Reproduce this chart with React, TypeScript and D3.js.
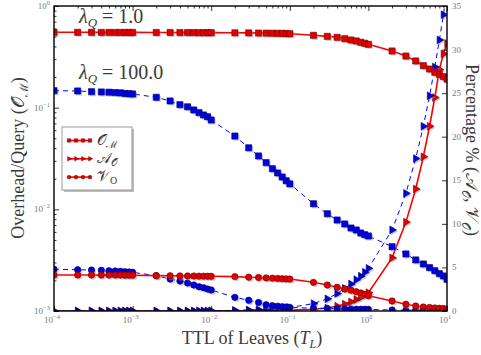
import { useEffect, useRef } from "react";
import * as d3 from "d3";

// TTL of leaves (x values, shared by every series)
const ttl = [
  1e-4, 2e-4, 3e-4, 4e-4, 5e-4, 6e-4, 7e-4, 8e-4, 9e-4,
  1e-3, 2e-3, 3e-3, 4e-3, 5e-3, 6e-3, 7e-3, 8e-3, 9e-3,
  1e-2, 2e-2, 3e-2, 4e-2, 5e-2, 6e-2, 7e-2, 8e-2, 9e-2,
  1e-1, 2e-1, 3e-1, 4e-1, 5e-1, 6e-1, 7e-1, 8e-1, 9e-1,
  1, 2, 3, 4, 5, 6, 7, 8, 9, 10,
];

// Overhead/Query, lambda_Q = 1.0 (left axis)
const omLow = [
  0.551, 0.551, 0.551, 0.55, 0.55, 0.55, 0.55, 0.55, 0.55,
  0.55, 0.549, 0.549, 0.548, 0.548, 0.548, 0.547, 0.547, 0.547,
  0.547, 0.545, 0.544, 0.542, 0.541, 0.54, 0.539, 0.538, 0.537,
  0.534, 0.515, 0.503, 0.492, 0.477, 0.463, 0.453, 0.44, 0.43,
  0.42, 0.361, 0.322, 0.288, 0.259, 0.24, 0.223, 0.212, 0.202, 0.191,
];

// Overhead/Query, lambda_Q = 100.0 (left axis)
const omHigh = [
  0.147, 0.146, 0.1436, 0.1427, 0.142, 0.1408, 0.1399, 0.138, 0.1372,
  0.1364, 0.1265, 0.1164, 0.107, 0.102, 0.0949, 0.0893, 0.0847, 0.0814,
  0.0756, 0.0526, 0.0403, 0.0335, 0.0288, 0.0251, 0.0228, 0.0208, 0.0191,
  0.0178, 0.01135, 0.00905, 0.00785, 0.00718, 0.00655, 0.00626, 0.00585, 0.00563,
  0.00547, 0.00429, 0.00364, 0.00318, 0.0029, 0.00267, 0.00249, 0.00233, 0.00221, 0.00205,
];

// A_O percentage, lambda_Q = 1.0 (right axis)
const aoLow = [
  0, 0, 0, 0, 0, 0, 0, 0, 0,
  0, 0, 0, 0, 0, 0, 0, 0, 0,
  0, 0.01, 0.02, 0.03, 0.04, 0.05, 0.06, 0.07, 0.08,
  0.1, 0.2, 0.35, 0.55, 0.8, 1.05, 1.32, 1.58, 1.85,
  2.1, 6.1, 10.2, 14.0, 17.7, 21.2, 24.5, 27.7, 29.5, 30.7,
];

// A_O percentage, lambda_Q = 100.0 (right axis)
const aoHigh = [
  0, 0, 0, 0, 0, 0, 0, 0, 0,
  0, 0, 0, 0, 0, 0, 0, 0, 0,
  0.02, 0.08, 0.12, 0.16, 0.2, 0.24, 0.28, 0.32, 0.36,
  0.4, 0.85, 1.4, 2.0, 2.6, 3.1, 3.6, 4.0, 4.45,
  4.9, 9.3, 13.5, 17.5, 21.2, 24.7, 28.0, 31.1, 34.0, 36.8,
];

// V_O percentage, lambda_Q = 1.0 (right axis)
const voLow = [
  4.13, 4.13, 4.13, 4.12, 4.12, 4.12, 4.12, 4.11, 4.11,
  4.11, 4.06, 4.04, 4.03, 4.02, 4.01, 4.0, 4.0, 3.99,
  3.98, 3.95, 3.88, 3.84, 3.8, 3.77, 3.74, 3.71, 3.69,
  3.67, 3.29, 2.98, 2.72, 2.53, 2.38, 2.22, 2.07, 1.92,
  1.76, 1.15, 0.77, 0.57, 0.46, 0.4, 0.35, 0.31, 0.28, 0.25,
];

// V_O percentage, lambda_Q = 100.0 (right axis)
const voHigh = [
  4.79, 4.74, 4.7, 4.67, 4.62, 4.59, 4.56, 4.51, 4.48,
  4.44, 4.05, 3.67, 3.44, 3.21, 2.98, 2.79, 2.67, 2.52,
  2.41, 1.57, 1.23, 0.98, 0.72, 0.62, 0.55, 0.5, 0.46,
  0.42, 0.31, 0.29, 0.26, 0.23, 0.22, 0.21, 0.2, 0.2,
  0.19, 0.11, 0.1, 0.1, 0.09, 0.09, 0.09, 0.08, 0.08, 0.08,
];

const leftTicks = [1e-3, 1e-2, 1e-1, 1];
const leftTickExp = ["\u22123", "\u22122", "\u22121", "0"];
const bottomTicks = [1e-4, 1e-3, 1e-2, 1e-1, 1, 10];
const bottomTickExp = ["\u22124", "\u22123", "\u22122", "\u22121", "0", "1"];
const rightTicks = [0, 5, 10, 15, 20, 25, 30, 35];
const legendLabels = [
  ["\u{1D4AA}", "\u2133"],
  ["\u{1D49C}", "\u{1D4AA}"],
  ["\u{1D4B1}", "O"],
];

const RED = "#ff0000";
const RED_FILL = "#e00000";
const RED_EDGE = "#700000";
const BLUE = "#0000ff";
const BLUE_FILL = "#0000e0";
const BLUE_EDGE = "#000070";
const SERIF = "Liberation Serif";

export default function App() {
  const svgRef = useRef<SVGSVGElement>(null);

  useEffect(() => {
    if (!svgRef.current) return;
    const svg = d3.select(svgRef.current);
    svg.selectAll("*").remove();

    const left = 54;
    const right = 447;
    const top = 6;
    const bottom = 311;

    const x = d3.scaleLog().domain([1e-4, 10]).range([left, right]);
    const yL = d3.scaleLog().domain([1e-3, 1]).range([bottom, top]);
    const yR = d3.scaleLinear().domain([0, 35]).range([bottom, top]);

    svg
      .append("defs")
      .append("clipPath")
      .attr("id", "plotClip")
      .append("rect")
      .attr("x", left)
      .attr("y", top)
      .attr("width", right - left)
      .attr("height", bottom - top);

    const plot = svg.append("g").attr("clip-path", "url(#plotClip)");

    const square = d3.symbol().type(d3.symbolSquare).size(38)();
    const circle = d3.symbol().type(d3.symbolCircle).size(32)();
    const tri = d3.symbol().type(d3.symbolTriangle).size(26)();

    const series = [
      { v: aoLow, s: yR, line: RED, fill: RED_FILL, edge: RED_EDGE, dash: null, mark: tri, rot: 90 },
      { v: aoHigh, s: yR, line: BLUE, fill: BLUE_FILL, edge: BLUE_EDGE, dash: "5,4", mark: tri, rot: 90 },
      { v: voHigh, s: yR, line: BLUE, fill: BLUE_FILL, edge: BLUE_EDGE, dash: "5,4", mark: circle, rot: 0 },
      { v: voLow, s: yR, line: RED, fill: RED_FILL, edge: RED_EDGE, dash: null, mark: circle, rot: 0 },
      { v: omHigh, s: yL, line: BLUE, fill: BLUE_FILL, edge: BLUE_EDGE, dash: "5,4", mark: square, rot: 0 },
      { v: omLow, s: yL, line: RED, fill: RED_FILL, edge: RED_EDGE, dash: null, mark: square, rot: 0 },
    ];

    series.forEach((sr) => {
      const line = d3
        .line<number>()
        .x((_, i) => x(ttl[i]))
        .y((d) => (sr.s as any)(d));
      plot
        .append("path")
        .datum(sr.v)
        .attr("fill", "none")
        .attr("stroke", sr.line)
        .attr("stroke-width", sr.dash ? 1 : 1.6)
        .attr("stroke-dasharray", sr.dash)
        .attr("d", line);

      // marker shadows
      plot
        .append("g")
        .selectAll("path")
        .data(sr.v)
        .join("path")
        .attr("d", sr.mark)
        .attr(
          "transform",
          (d, i) => `translate(${x(ttl[i]) + 1.5},${(sr.s as any)(d) + 1.5}) rotate(${sr.rot})`
        )
        .attr("fill", "#999")
        .attr("opacity", 0.5);

      plot
        .append("g")
        .selectAll("path")
        .data(sr.v)
        .join("path")
        .attr("d", sr.mark)
        .attr("transform", (d, i) => `translate(${x(ttl[i])},${(sr.s as any)(d)}) rotate(${sr.rot})`)
        .attr("fill", sr.fill)
        .attr("stroke", sr.edge)
        .attr("stroke-width", 0.6);
    });

    // Axes (inward ticks)
    const minorX = x.ticks().filter((d) => !bottomTicks.includes(d));
    const minorY = yL.ticks().filter((d) => !leftTicks.includes(d));
    const axes = svg.append("g").attr("color", "#000");
    const addAxis = (axis: any, tx: number, ty: number) => {
      const g = axes.append("g").attr("transform", `translate(${tx},${ty})`).call(axis);
      g.select(".domain").remove();
      g.selectAll("text").remove();
      g.selectAll("line").attr("stroke-width", 0.8);
    };
    addAxis(d3.axisBottom(x).tickValues(bottomTicks).tickSize(-5), 0, bottom);
    addAxis(d3.axisBottom(x).tickValues(minorX).tickSize(-2.5), 0, bottom);
    addAxis(d3.axisTop(x).tickValues(bottomTicks).tickSize(-5), 0, top);
    addAxis(d3.axisTop(x).tickValues(minorX).tickSize(-2.5), 0, top);
    addAxis(d3.axisLeft(yL).tickValues(leftTicks).tickSize(-5), left, 0);
    addAxis(d3.axisLeft(yL).tickValues(minorY).tickSize(-2.5), left, 0);
    addAxis(d3.axisRight(yR).tickValues(rightTicks).tickSize(-5), right, 0);

    svg
      .append("rect")
      .attr("x", left)
      .attr("y", top)
      .attr("width", right - left)
      .attr("height", bottom - top)
      .attr("fill", "none")
      .attr("stroke", "#000")
      .attr("stroke-width", 1.4);

    // Tick labels
    const tickColor = "#777";
    bottomTicks.forEach((t, i) => {
      const tx = svg
        .append("text")
        .attr("x", x(t) - 2)
        .attr("y", 323)
        .attr("text-anchor", "middle")
        .style("font-family", SERIF)
        .attr("font-size", 9)
        .attr("fill", tickColor)
        .text("10");
      tx.append("tspan").attr("dy", -4).attr("font-size", 6.5).text(bottomTickExp[i]);
    });
    leftTicks.forEach((t, i) => {
      const tx = svg
        .append("text")
        .attr("x", left - 4)
        .attr("y", yL(t) + 3)
        .attr("text-anchor", "end")
        .style("font-family", SERIF)
        .attr("font-size", 9)
        .attr("fill", tickColor)
        .text("10");
      tx.append("tspan").attr("dy", -4).attr("font-size", 6.5).text(leftTickExp[i]);
    });
    rightTicks.forEach((t) => {
      svg
        .append("text")
        .attr("x", right + 5)
        .attr("y", yR(t) + 3)
        .style("font-family", SERIF)
        .attr("font-size", 9)
        .attr("fill", tickColor)
        .text(String(t));
    });

    // Axis titles
    const titleColor = "#3a3a3a";
    const xt = svg
      .append("text")
      .attr("x", 252)
      .attr("y", 344)
      .attr("text-anchor", "middle")
      .style("font-family", SERIF)
      .attr("font-size", 18)
      .attr("fill", titleColor)
      .text("TTL of Leaves (");
    xt.append("tspan").attr("font-style", "italic").text("T");
    xt.append("tspan").attr("font-style", "italic").attr("font-size", 12).attr("dy", 4).text("L");
    xt.append("tspan").attr("dy", -4).text(")");

    const yt = svg
      .append("text")
      .attr("transform", `translate(24,${158}) rotate(-90)`)
      .attr("text-anchor", "middle")
      .style("font-family", SERIF)
      .attr("font-size", 18)
      .attr("fill", titleColor)
      .text("Overhead/Query (\u{1D4AA}");
    yt.append("tspan").attr("font-size", 12).attr("dy", 4).text("\u2133");
    yt.append("tspan").attr("dy", -4).text(")");

    const yt2 = svg
      .append("text")
      .attr("transform", `translate(466,${150}) rotate(90)`)
      .attr("text-anchor", "middle")
      .style("font-family", SERIF)
      .attr("font-size", 18)
      .attr("fill", titleColor)
      .text("Percentage % (\u{1D49C}");
    yt2.append("tspan").attr("font-size", 12).attr("dy", 4).text("\u{1D4AA}");
    yt2.append("tspan").attr("dy", -4).text(", \u{1D4B1}");
    yt2.append("tspan").attr("font-size", 12).attr("dy", 4).text("\u{1D4AA}");
    yt2.append("tspan").attr("dy", -4).text(")");

    // lambda annotations
    [
      { label: "1.0", y: 23 },
      { label: "100.0", y: 79 },
    ].forEach((a) => {
      const t = svg
        .append("text")
        .attr("x", 79)
        .attr("y", a.y)
        .style("font-family", SERIF)
        .attr("font-size", 20)
        .attr("fill", titleColor);
      t.append("tspan").attr("font-style", "italic").text("\u03BB");
      t.append("tspan").attr("font-style", "italic").attr("font-size", 13).attr("dy", 4).text("Q");
      t.append("tspan").attr("dy", -4).text(` = ${a.label}`);
    });

    // Legend
    const lg = svg.append("g").attr("transform", "translate(62,127)");
    lg.append("rect").attr("x", 2).attr("y", 2).attr("width", 70).attr("height", 63).attr("fill", "#bbb");
    lg.append("rect")
      .attr("width", 70)
      .attr("height", 63)
      .attr("fill", "#fff")
      .attr("stroke", "#999")
      .attr("stroke-width", 1);
    const smallMarks = [
      d3.symbol().type(d3.symbolSquare).size(12)(),
      d3.symbol().type(d3.symbolTriangle).size(9)(),
      d3.symbol().type(d3.symbolCircle).size(11)(),
    ];
    legendLabels.forEach((lab, i) => {
      const yy = 13.5 + i * 18.3;
      lg.append("line")
        .attr("x1", 6)
        .attr("x2", 29)
        .attr("y1", yy)
        .attr("y2", yy)
        .attr("stroke", RED)
        .attr("stroke-width", 1.6);
      [7, 14, 21, 28].forEach((mx) => {
        lg.append("path")
          .attr("d", smallMarks[i])
          .attr("transform", `translate(${mx},${yy}) rotate(${i === 1 ? 90 : 0})`)
          .attr("fill", RED_FILL)
          .attr("stroke", RED_EDGE)
          .attr("stroke-width", 0.5);
      });
      const t = lg
        .append("text")
        .attr("x", 35)
        .attr("y", yy + 4)
        .style("font-family", SERIF)
        .attr("font-size", 15)
        .attr("fill", titleColor)
        .text(lab[0]);
      t.append("tspan").attr("font-size", 10).attr("dy", 3).text(lab[1]);
    });
  }, []);

  return (
    <svg
      ref={svgRef}
      width={481}
      height={355}
      style={{ position: "absolute", left: 0, top: 0, background: "#fff" }}
    />
  );
}
